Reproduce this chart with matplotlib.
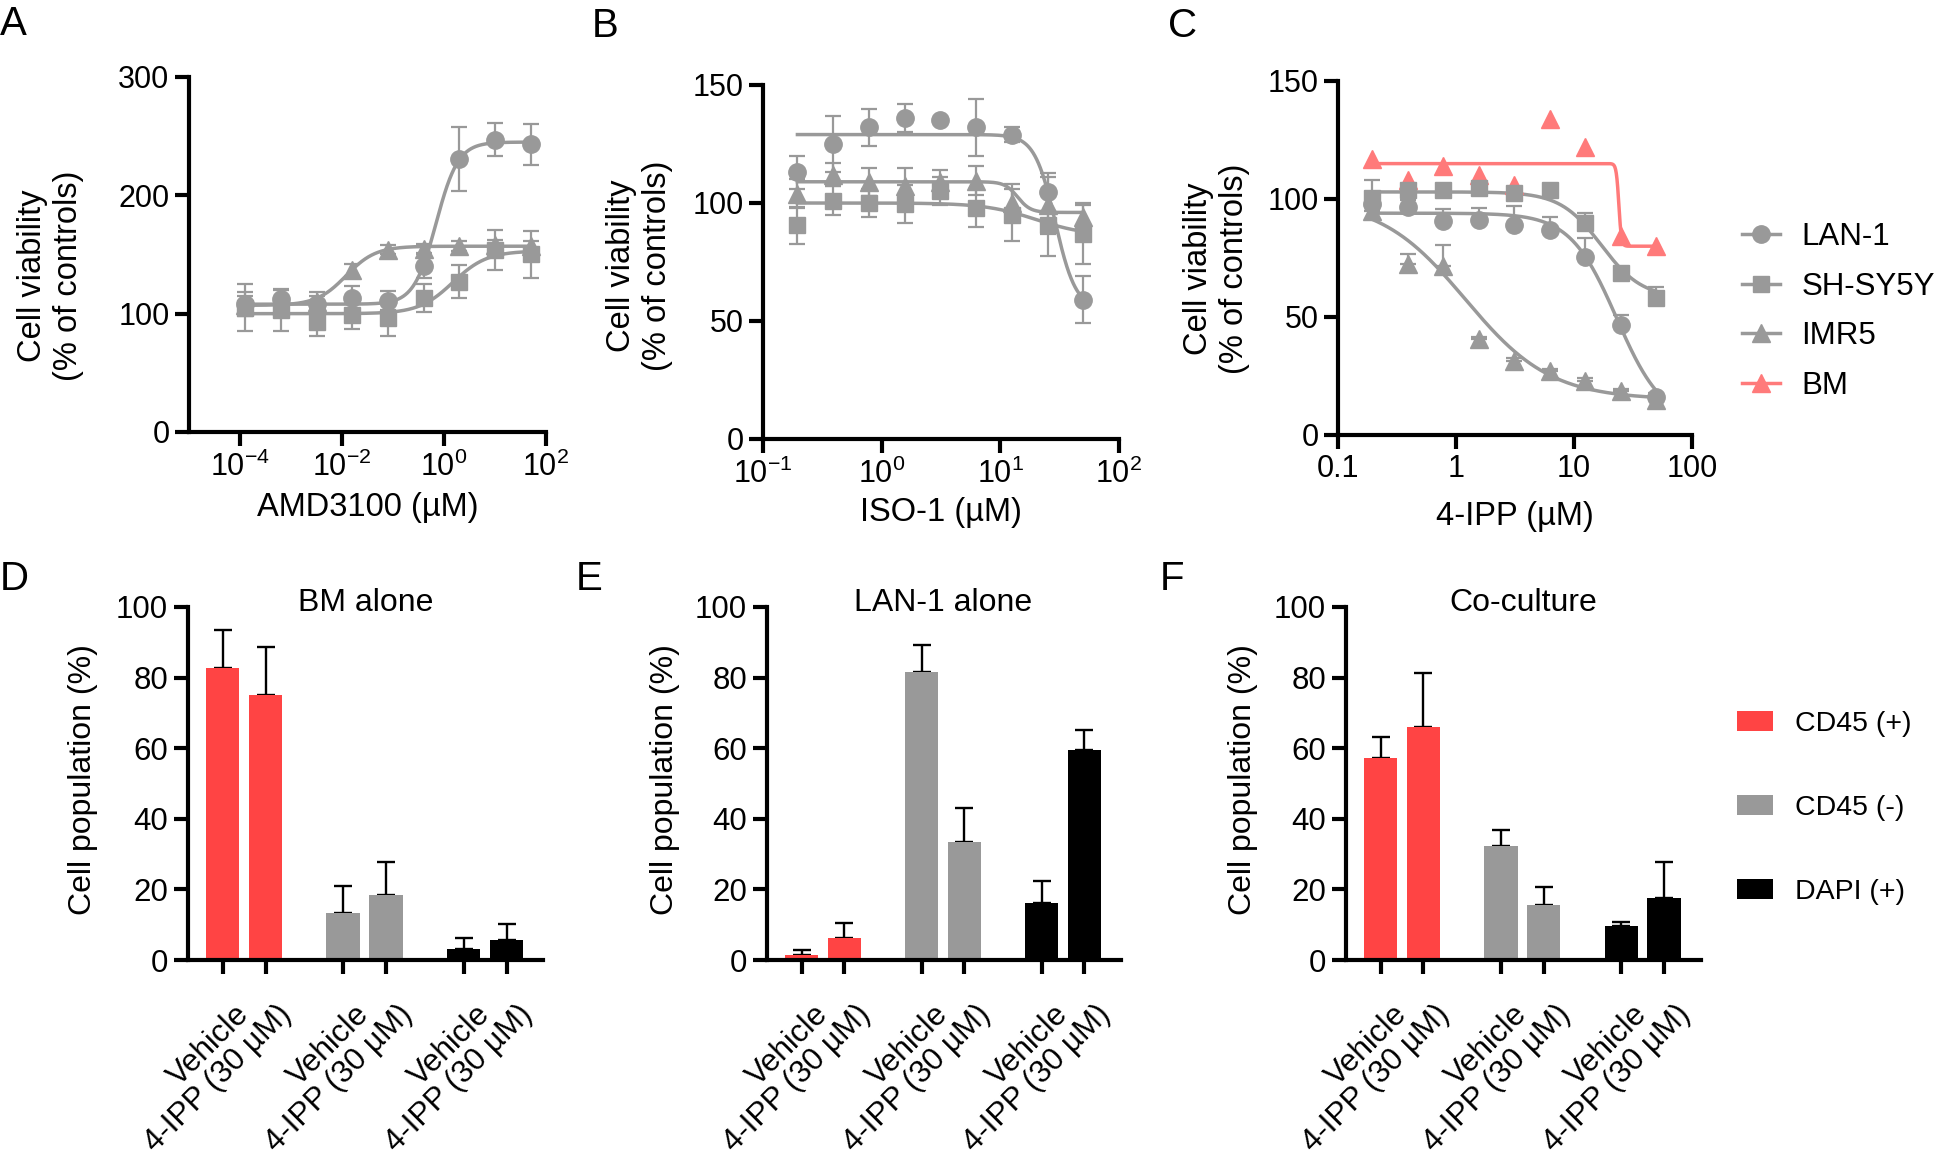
import matplotlib
matplotlib.use('Agg')
import matplotlib.pyplot as plt
import numpy as np
from matplotlib.lines import Line2D
from matplotlib.patches import Patch
from matplotlib.transforms import ScaledTranslation

plt.rcParams['font.family'] = ['Liberation Sans', 'DejaVu Sans']
plt.rcParams['mathtext.fontset'] = 'custom'
plt.rcParams['mathtext.rm'] = 'Liberation Sans'
plt.rcParams['mathtext.it'] = 'Liberation Sans:italic'

# ---------------- data ----------------
cell_lines = ['LAN-1', 'SH-SY5Y', 'IMR5', 'BM']

# Panel A: AMD3100
conc_A = [1.28e-4, 6.4e-4, 3.2e-3, 0.016, 0.08, 0.4, 2, 10, 50]
A_lan1 = [108, 112, 108, 113, 111, 140, 231, 247, 243]
A_lan1_err = [10, 8, 10, 10, 8, 10, 27, 14, 17]
A_sh = [105, 103, 93, 99, 96, 113, 127, 154, 150]
A_sh_err = [20, 18, 12, 12, 15, 12, 14, 17, 20]
A_imr = [107, 107, 110, 137, 154, 155, 157, 158, 157]
A_imr_err = [8, 5, 5, 5, 4, 4, 4, 4, 4]
# fit parameters: (low-x plateau, high-x plateau, EC50, Hill)
A_fit_lan1 = [108, 245, 0.7, 2.0]
A_fit_sh = [100, 153, 1.5, 1.3]
A_fit_imr = [107, 157, 0.012, 1.5]

# Panel B: ISO-1
conc_B = [0.195, 0.39, 0.78, 1.56, 3.125, 6.25, 12.5, 25, 50]
B_lan1 = [113, 125, 132, 136, 135, 132, 129, 104.5, 59]
B_lan1_err = [7, 12, 8, 6, 0, 12, 3, 8, 10]
B_sh = [90.5, 101, 100, 99.6, 105, 98, 95, 90.5, 87]
B_sh_err = [8, 6, 6, 8, 6, 8, 11, 13, 13]
B_imr = [104, 112, 109, 107, 109, 109.5, 100, 99, 94]
B_imr_err = [6, 5, 6, 8, 5, 6, 8, 12, 5]
B_fit_lan1 = [129, 55, 29, 5]
B_fit_sh = [100, 86, 20, 2]
B_fit_imr = [109, 96, 14, 8]

# Panel C: 4-IPP
conc_C = [0.195, 0.39, 0.78, 1.56, 3.125, 6.25, 12.5, 25, 50]
C_lan1 = [98, 96.6, 90.6, 91, 89, 87, 75.5, 46.7, 16]
C_lan1_err = [3, 3, 5, 5, 8, 5.5, 8, 4, 2]
C_sh = [100.5, 104, 104, 104.7, 102.4, 104, 90, 68.6, 58]
C_sh_err = [7.5, 2, 2, 2, 2, 2, 4, 2, 4.5]
C_imr = [95, 72.4, 71.7, 40.6, 31.5, 27, 23, 18.6, 14.8]
C_imr_err = [2, 4.5, 9, 1, 1, 1, 1, 1, 1]
C_bm = [117, 108, 114, 110, 106, 134, 122, 84.5, 80]
C_fit_lan1 = [94, 5, 23, 2.2]
C_fit_sh = [103, 58, 17, 2.5]
C_fit_imr = [100, 15, 1.2, 1.2]
C_fit_bm = [115, 80, 24, 40]

# Panels D-F: flow cytometry
treatments = ['Vehicle', '4-IPP (30 µM)']
populations = ['CD45 (+)', 'CD45 (-)', 'DAPI (+)']
D_mean = [82.8, 75.2, 13.3, 18.5, 3.1, 5.7]
D_err = [10.8, 13.5, 7.8, 9.3, 3.0, 4.5]
E_mean = [1.3, 6.3, 81.5, 33.5, 16.2, 59.4]
E_err = [1.6, 4.1, 7.8, 9.6, 6.3, 5.7]
F_mean = [57.3, 66.0, 32.3, 15.5, 9.5, 17.7]
F_err = [5.8, 15.2, 4.4, 5.3, 1.4, 10.1]

# ---------------- style ----------------
GRAY = '#999999'
RED_BAR = '#FF4444'
PINK = '#FF7A7A'
bar_colors = [RED_BAR, GRAY, '#000000']
TICK_FS = 22
LABEL_FS = 23.5
SPINE_LW = 3.0

W, H = 1944, 1154
fig = plt.figure(figsize=(W / 100, H / 100), dpi=100)


def add_ax(l, t, r, b):
    return fig.add_axes([l / W, 1 - b / H, (r - l) / W, (b - t) / H])


def style(ax):
    for s in ['top', 'right']:
        ax.spines[s].set_visible(False)
    for s in ['left', 'bottom']:
        ax.spines[s].set_linewidth(SPINE_LW)
    ax.tick_params(width=SPINE_LW, length=10, labelsize=TICK_FS, pad=4)
    ax.tick_params(which='minor', length=0)


def fit_curve(x, p):
    lo, hi, ec50, hill = p
    return lo + (hi - lo) / (1 + (ec50 / x) ** hill)


def curve_panel(ax, conc, series, xlim, xticks, xticklabels, ylim, yticks, up_only=False):
    for vals, err, fit, marker, ms, color in series:
        xs = np.logspace(np.log10(conc[0]), np.log10(conc[-1]), 800)
        ax.plot(xs, fit_curve(xs, fit), color=color, lw=2.5, zorder=2, clip_on=False)
        if err is not None:
            e = np.array(err)
            yerr = [np.zeros_like(e), e] if up_only else e
            ax.errorbar(conc, vals, yerr=yerr, fmt='none', ecolor=color,
                        elinewidth=1.6, capsize=5.5, capthick=1.6, zorder=2, clip_on=False)
        ax.plot(conc, vals, linestyle='none', marker=marker, ms=ms, color=color,
                mec=color, zorder=3, clip_on=False)
    ax.set_xscale('log')
    ax.set_xlim(*xlim)
    ax.set_ylim(*ylim)
    ax.set_xticks(xticks)
    ax.set_xticklabels(xticklabels)
    ax.xaxis.set_minor_locator(matplotlib.ticker.NullLocator())
    ax.set_yticks(yticks)
    style(ax)


MS_O, MS_S, MS_T = 12.5, 12, 13.5

# Panel A
axA = add_ax(189, 77, 546, 432)
curve_panel(axA, conc_A,
            [(A_lan1, A_lan1_err, A_fit_lan1, 'o', MS_O, GRAY),
             (A_sh, A_sh_err, A_fit_sh, 's', MS_S, GRAY),
             (A_imr, A_imr_err, A_fit_imr, '^', MS_T, GRAY)],
            (1e-5, 1e2), [1e-4, 1e-2, 1e0, 1e2],
            [r'$\mathregular{10^{-4}}$', r'$\mathregular{10^{-2}}$',
             r'$\mathregular{10^{0}}$', r'$\mathregular{10^{2}}$'],
            (0, 300), [0, 100, 200, 300])
axA.set_xlabel('AMD3100 (µM)', fontsize=LABEL_FS)
axA.set_ylabel('Cell viability\n(% of controls)', fontsize=LABEL_FS)
axA.xaxis.set_label_coords(0.5, -0.169)
axA.yaxis.set_label_coords(-0.295, 0.44)

# Panel B
axB = add_ax(763, 85, 1119, 439)
curve_panel(axB, conc_B,
            [(B_lan1, B_lan1_err, B_fit_lan1, 'o', MS_O, GRAY),
             (B_sh, B_sh_err, B_fit_sh, 's', MS_S, GRAY),
             (B_imr, B_imr_err, B_fit_imr, '^', MS_T, GRAY)],
            (0.1, 100), [0.1, 1, 10, 100],
            [r'$\mathregular{10^{-1}}$', r'$\mathregular{10^{0}}$',
             r'$\mathregular{10^{1}}$', r'$\mathregular{10^{2}}$'],
            (0, 150), [0, 50, 100, 150])
axB.set_xlabel('ISO-1 (µM)', fontsize=LABEL_FS)
axB.set_ylabel('Cell viability\n(% of controls)', fontsize=LABEL_FS)
axB.xaxis.set_label_coords(0.5, -0.164)
axB.yaxis.set_label_coords(-0.253, 0.49)

# Panel C
axC = add_ax(1338, 81, 1692, 435)
curve_panel(axC, conc_C,
            [(C_bm, None, C_fit_bm, '^', MS_T, PINK),
             (C_lan1, C_lan1_err, C_fit_lan1, 'o', MS_O, GRAY),
             (C_sh, C_sh_err, C_fit_sh, 's', MS_S, GRAY),
             (C_imr, C_imr_err, C_fit_imr, '^', MS_T, GRAY)],
            (0.1, 100), [0.1, 1, 10, 100], ['0.1', '1', '10', '100'],
            (0, 150), [0, 50, 100, 150], up_only=True)
axC.set_xlabel('4-IPP (µM)', fontsize=LABEL_FS)
axC.set_ylabel('Cell viability\n(% of controls)', fontsize=LABEL_FS)
axC.xaxis.set_label_coords(0.5, -0.186)
axC.yaxis.set_label_coords(-0.249, 0.47)

leg_handles = [
    Line2D([], [], color=GRAY, marker='o', ms=MS_O, lw=2.5),
    Line2D([], [], color=GRAY, marker='s', ms=MS_S, lw=2.5),
    Line2D([], [], color=GRAY, marker='^', ms=MS_T, lw=2.5),
    Line2D([], [], color=PINK, marker='^', ms=MS_T, lw=2.5),
]
fig.legend(leg_handles, cell_lines, loc='upper left',
           bbox_to_anchor=(1742 / W, 1 - 222 / H), frameon=False,
           fontsize=22.5, handlelength=1.2, handletextpad=0.7, labelspacing=0.63,
           borderaxespad=0, borderpad=0)


# Bar panels
def bar_panel(ax, means, errs, title):
    pos = []
    cols = []
    for g in range(len(populations)):
        for i in range(len(treatments)):
            pos.append(g * 2.81 + i)
            cols.append(bar_colors[g])
    ax.errorbar(pos, means, yerr=[np.zeros(len(errs)), errs], fmt='none',
                ecolor='black', elinewidth=1.7, capsize=6.5, capthick=1.7, zorder=1)
    ax.bar(pos, means, width=0.78, color=cols, zorder=2)
    ax.set_xlim(-0.82, 7.47)
    ax.set_ylim(0, 100)
    ax.set_yticks([0, 20, 40, 60, 80, 100])
    ax.set_xticks(pos)
    ax.set_xticklabels(treatments * len(populations), rotation=45, ha='right',
                       va='top', rotation_mode='anchor')
    style(ax)
    ax.tick_params(axis='x', pad=18, labelsize=22.5)
    ax.tick_params(axis='y', labelsize=22.5)
    off = ScaledTranslation(8 / 72, 0, fig.dpi_scale_trans)
    for lab in ax.get_xticklabels():
        lab.set_transform(lab.get_transform() + off)
    ax.set_ylabel('Cell population (%)', fontsize=23)
    ax.set_title(title, fontsize=23, pad=0, va='center', y=1.01)


axD = add_ax(187.5, 607, 543, 960)
bar_panel(axD, D_mean, D_err, 'BM alone')
axD.yaxis.set_label_coords(-0.253, 0.51)

axE = add_ax(766.5, 607, 1120.5, 960)
bar_panel(axE, E_mean, E_err, 'LAN-1 alone')
axE.yaxis.set_label_coords(-0.244, 0.51)

axF = add_ax(1345.5, 607, 1700.5, 960)
bar_panel(axF, F_mean, F_err, 'Co-culture')
axF.yaxis.set_label_coords(-0.247, 0.51)

patch_handles = [Patch(facecolor=c, edgecolor='none') for c in bar_colors]
fig.legend(patch_handles, populations, loc='upper left',
           bbox_to_anchor=(1737 / W, 1 - 711 / H), frameon=False,
           fontsize=20.5, handlelength=1.28, handleheight=0.67, handletextpad=0.75,
           labelspacing=2.04, borderaxespad=0, borderpad=0)

# Panel letters
for letter, x, y in [('A', 0, 5), ('B', 592, 7), ('C', 1168, 7),
                     ('D', 0, 560), ('E', 576, 560), ('F', 1160, 560)]:
    fig.text(x / W, 1 - y / H, letter, fontsize=29, ha='left', va='top')

fig.savefig('out.png', dpi=100)
